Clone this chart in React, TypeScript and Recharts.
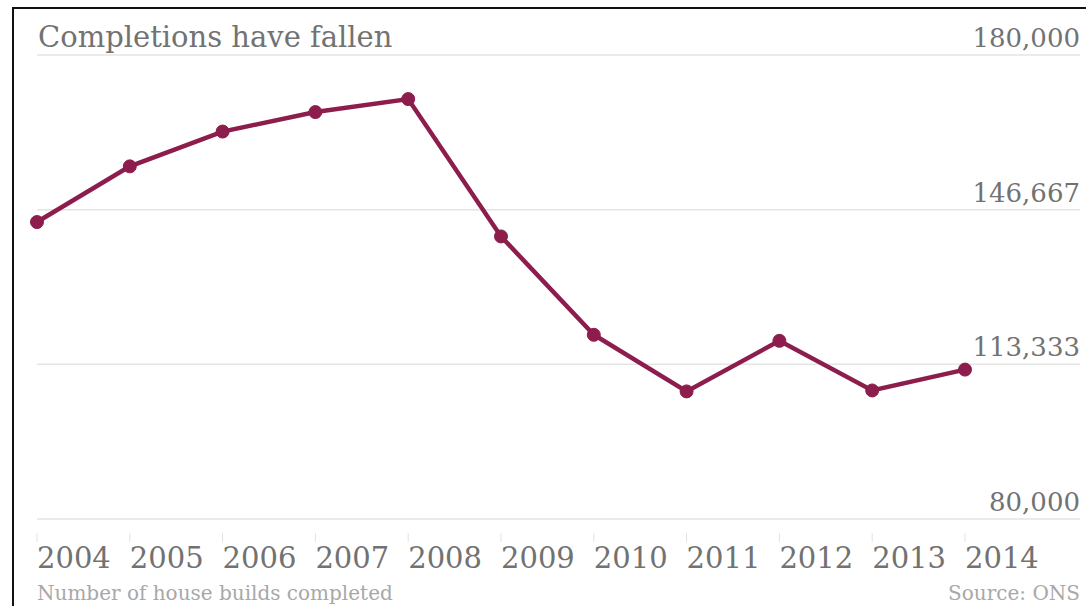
import { CartesianGrid, Line, LineChart, XAxis, YAxis } from "recharts";

const YEARS = [2004, 2005, 2006, 2007, 2008, 2009, 2010, 2011, 2012, 2013, 2014];
const COMPLETIONS = [
  144000, 156000, 163500, 167700, 170500, 140900, 119700, 107500, 118400, 107700, 112200,
];
const Y_TICKS = [80000, 113333.33, 146666.67, 180000];

const data = YEARS.map((year, i) => ({ year, completions: COMPLETIONS[i] }));

const LINE_COLOR = "#8c1d4c";
const FONT = "'DejaVu Serif', serif";
const PLOT_RIGHT = 1080;

const XTick = (props: any) => {
  const { x, y, payload } = props;
  return (
    <g>
      <line x1={x} x2={x} y1={y + 6} y2={y + 15} stroke="#e2e2e2" strokeWidth={1} />
      <text x={x} y={y + 41} textAnchor="start" fill="#727272" fontSize={29} fontFamily={FONT}>
        {payload.value}
      </text>
    </g>
  );
};

const YTick = (props: any) => {
  const { y, payload } = props;
  return (
    <text x={PLOT_RIGHT} y={y - 8} textAnchor="end" fill="#727272" fontSize={26} fontFamily={FONT}>
      {Math.round(payload.value).toLocaleString("en-US")}
    </text>
  );
};

export default function App() {
  return (
    <div
      style={{
        position: "fixed",
        top: 0,
        left: 0,
        width: 1086,
        height: 606,
        background: "#fff",
        overflow: "hidden",
        fontFamily: FONT,
      }}
    >
      <div
        style={{
          position: "absolute",
          left: 12,
          top: 7,
          right: 0,
          bottom: 0,
          borderTop: "2px solid #111",
          borderLeft: "2px solid #111",
        }}
      />
      <LineChart
        width={1086}
        height={606}
        data={data}
        margin={{ top: 55, right: 5, bottom: 47, left: 37 }}
      >
        <CartesianGrid vertical={false} stroke="#e4e4e4" strokeWidth={1.5} />
        <XAxis
          dataKey="year"
          type="number"
          domain={[2004, 2014]}
          ticks={YEARS}
          padding={{ left: 0, right: 115 }}
          axisLine={false}
          tickLine={false}
          tick={<XTick />}
          height={40}
          interval={0}
        />
        <YAxis
          orientation="right"
          domain={[80000, 180000]}
          ticks={Y_TICKS}
          axisLine={false}
          tickLine={false}
          tick={<YTick />}
          width={1}
          interval={0}
          allowDataOverflow
        />
        <Line
          dataKey="completions"
          stroke={LINE_COLOR}
          strokeWidth={4.5}
          dot={{ r: 6.5, fill: LINE_COLOR, stroke: LINE_COLOR, strokeWidth: 1 }}
          activeDot={false}
          isAnimationActive={false}
        />
      </LineChart>
      <div
        style={{
          position: "absolute",
          left: 38,
          top: 20,
          fontSize: 29,
          color: "#727272",
          whiteSpace: "nowrap",
        }}
      >
        Completions have fallen
      </div>
      <div
        style={{
          position: "absolute",
          left: 37,
          top: 581,
          fontSize: 20,
          color: "#a8a8a8",
          whiteSpace: "nowrap",
        }}
      >
        Number of house builds completed
      </div>
      <div
        style={{
          position: "absolute",
          right: 6,
          top: 581,
          fontSize: 20,
          color: "#a8a8a8",
          whiteSpace: "nowrap",
        }}
      >
        Source: ONS
      </div>
    </div>
  );
}
